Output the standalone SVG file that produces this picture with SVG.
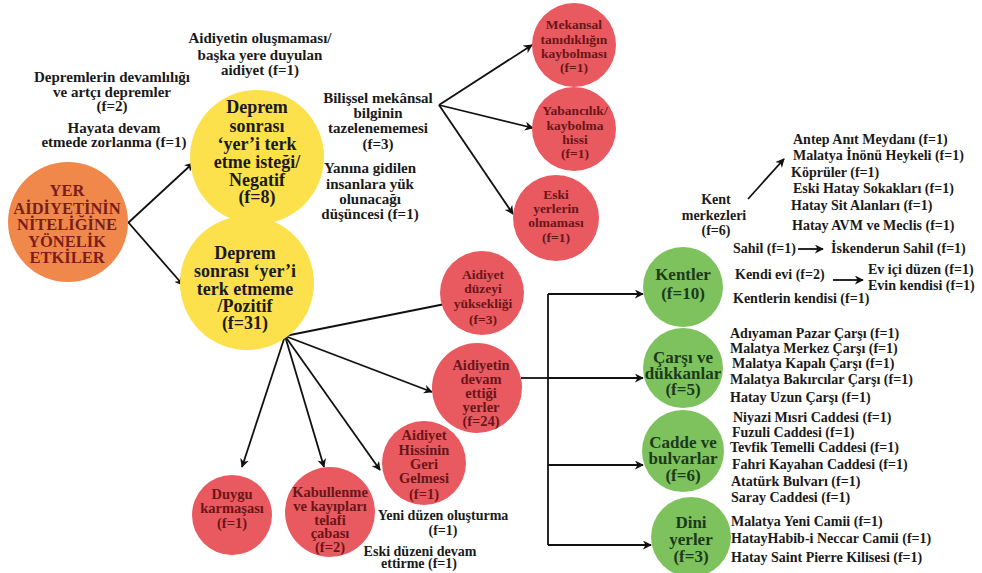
<svg xmlns="http://www.w3.org/2000/svg" width="982" height="573" viewBox="0 0 982 573">
<defs>
<marker id="ah" viewBox="0 0 10 10" refX="9" refY="5" markerWidth="5" markerHeight="5" orient="auto" markerUnits="strokeWidth">
<path d="M0,0 L10,5 L0,10 L3,5 z" fill="#111"/>
</marker>
<style>
text{font-family:"Liberation Serif","Times New Roman",serif;font-weight:bold;}
.c{text-anchor:middle;}
.root{fill:#F1884B;}
.yel{fill:#FCE14C;}
.red{fill:#E85A60;}
.grn{fill:#7DC25C;}
.tr{fill:#7A1E1A;font-size:16.5px;}
.ty{fill:#1a1a1a;font-size:18px;}
.tred{fill:#6A1518;font-size:13.5px;}
.tred2{fill:#6A1518;font-size:14.5px;}
.tg{fill:#1B3A1B;font-size:17px;}
.lb{fill:#1a1a1a;font-size:15px;}
.ls{fill:#1a1a1a;font-size:14px;}
.conn line,.conn polyline{stroke:#111;stroke-width:1.8;fill:none;}
</style>
</defs>
<rect width="982" height="573" fill="#ffffff"/>

<g id="connectors" class="conn">
<line x1="128" y1="223" x2="193" y2="163" marker-end="url(#ah)"/>
<line x1="128" y1="222" x2="183" y2="285" marker-end="url(#ah)"/>
<line x1="439" y1="105" x2="532" y2="45" marker-end="url(#ah)"/>
<line x1="439" y1="105" x2="533" y2="128" marker-end="url(#ah)"/>
<line x1="439" y1="105" x2="513" y2="214" marker-end="url(#ah)"/>
<line x1="285" y1="336" x2="450" y2="303" marker-end="url(#ah)"/>
<line x1="285" y1="336" x2="432" y2="392" marker-end="url(#ah)"/>
<line x1="285" y1="336" x2="380" y2="470" marker-end="url(#ah)"/>
<line x1="285" y1="336" x2="324" y2="467" marker-end="url(#ah)"/>
<line x1="285" y1="336" x2="242" y2="467" marker-end="url(#ah)"/>
<line x1="521" y1="378" x2="548" y2="378"/>
<line x1="548" y1="294" x2="548" y2="545"/>
<line x1="548" y1="294" x2="643" y2="294" marker-end="url(#ah)"/>
<line x1="548" y1="378" x2="643" y2="378" marker-end="url(#ah)"/>
<line x1="548" y1="465" x2="643" y2="465" marker-end="url(#ah)"/>
<line x1="548" y1="545" x2="651" y2="545" marker-end="url(#ah)"/>
<line x1="748" y1="199" x2="784" y2="159" marker-end="url(#ah)"/>
<line x1="798" y1="249" x2="823" y2="249" marker-end="url(#ah)"/>
<line x1="833" y1="280" x2="863" y2="280" marker-end="url(#ah)"/>
</g>

<g id="root">
<circle class="root" cx="68" cy="222" r="60"/>
<text class="c tr" x="67" y="196">YER</text>
<text class="c tr" x="67" y="214">AİDİYETİNİN</text>
<text class="c tr" x="67" y="230">NİTELİĞİNE</text>
<text class="c tr" x="67" y="247">YÖNELİK</text>
<text class="c tr" x="67" y="263">ETKİLER</text>
</g>

<g id="negatif">
<circle class="yel" cx="257" cy="157" r="67"/>
<text class="c ty" x="257" y="113">Deprem</text>
<text class="c ty" x="257" y="132">sonrası</text>
<text class="c ty" x="257" y="150">‘yer’i terk</text>
<text class="c ty" x="257" y="168">etme isteği/</text>
<text class="c ty" x="257" y="186">Negatif</text>
<text class="c ty" x="257" y="203">(f=8)</text>
</g>

<g id="pozitif">
<circle class="yel" cx="247" cy="283" r="67"/>
<text class="c ty" x="245" y="259">Deprem</text>
<text class="c ty" x="245" y="277">sonrası ‘yer’i</text>
<text class="c ty" x="245" y="295">terk etmeme</text>
<text class="c ty" x="245" y="312">/Pozitif</text>
<text class="c ty" x="245" y="329">(f=31)</text>
</g>

<g id="neg-labels">
<text class="c lb" x="260" y="43">Aidiyetin oluşmaması/</text>
<text class="c lb" x="260" y="60">başka yere duyulan</text>
<text class="c lb" x="260" y="75">aidiyet (f=1)</text>
<text class="c lb" x="112" y="82">Depremlerin devamlılığı</text>
<text class="c lb" x="112" y="97">ve artçı  depremler</text>
<text class="c lb" x="112" y="111">(f=2)</text>
<text class="c lb" x="114" y="133">Hayata devam</text>
<text class="c lb" x="114" y="147">etmede zorlanma (f=1)</text>
<text class="c lb" x="378" y="103">Bilişsel mekânsal</text>
<text class="c lb" x="378" y="118">bilginin</text>
<text class="c lb" x="378" y="133">tazelenememesi</text>
<text class="c lb" x="378" y="149">(f=3)</text>
<text class="c lb" x="370" y="173">Yanına gidilen</text>
<text class="c lb" x="370" y="189">insanlara yük</text>
<text class="c lb" x="370" y="204">olunacağı</text>
<text class="c lb" x="370" y="219">düşüncesi (f=1)</text>
</g>

<g id="mekansal">
<circle class="red" cx="574" cy="45" r="42"/>
<text class="c tred" x="574" y="29">Mekansal</text>
<text class="c tred" x="574" y="44">tanıdıklığın</text>
<text class="c tred" x="574" y="58">kaybolması</text>
<text class="c tred" x="574" y="72">(f=1)</text>
</g>
<g id="yabancilik">
<circle class="red" cx="574" cy="129" r="42"/>
<text class="c tred" x="575" y="115">Yabancılık/</text>
<text class="c tred" x="575" y="130">kaybolma</text>
<text class="c tred" x="575" y="144">hissi</text>
<text class="c tred" x="575" y="158">(f=1)</text>
</g>
<g id="eski">
<circle class="red" cx="556" cy="218" r="43"/>
<text class="c tred" x="556" y="199">Eski</text>
<text class="c tred" x="556" y="213">yerlerin</text>
<text class="c tred" x="556" y="227">olmaması</text>
<text class="c tred" x="556" y="242">(f=1)</text>
</g>

<g id="duzey">
<circle class="red" cx="482" cy="293" r="42"/>
<text class="c tred" x="483" y="279">Aidiyet</text>
<text class="c tred" x="483" y="293">düzeyi</text>
<text class="c tred" x="483" y="308">yüksekliği</text>
<text class="c tred" x="483" y="324">(f=3)</text>
</g>
<g id="devam">
<circle class="red" cx="477" cy="388" r="45"/>
<text class="c tred2" x="481" y="370">Aidiyetin</text>
<text class="c tred2" x="481" y="384">devam</text>
<text class="c tred2" x="481" y="398">ettiği</text>
<text class="c tred2" x="481" y="412">yerler</text>
<text class="c tred2" x="481" y="426">(f=24)</text>
</g>
<g id="hissinin">
<circle class="red" cx="424" cy="463" r="42"/>
<text class="c tred2" x="424" y="440">Aidiyet</text>
<text class="c tred2" x="424" y="455">Hissinin</text>
<text class="c tred2" x="424" y="469">Geri</text>
<text class="c tred2" x="424" y="483">Gelmesi</text>
<text class="c tred2" x="424" y="499">(f=1)</text>
</g>
<g id="kabullenme">
<circle class="red" cx="330" cy="512" r="45"/>
<text class="c tred2" x="330" y="497">Kabullenme</text>
<text class="c tred2" x="330" y="511">ve kayıpları</text>
<text class="c tred2" x="330" y="525">telafi</text>
<text class="c tred2" x="330" y="538">çabası</text>
<text class="c tred2" x="330" y="552">(f=2)</text>
</g>
<g id="duygu">
<circle class="red" cx="232" cy="515" r="40"/>
<text class="c tred2" x="232" y="499">Duygu</text>
<text class="c tred2" x="232" y="513">karmaşası</text>
<text class="c tred2" x="232" y="528">(f=1)</text>
</g>

<g id="his-labels">
<text class="c ls" x="443" y="520">Yeni düzen oluşturma</text>
<text class="c ls" x="443" y="535">(f=1)</text>
<text class="c ls" x="420" y="556">Eski düzeni devam</text>
<text class="c ls" x="419" y="568">ettirme (f=1)</text>
</g>

<g id="kentler">
<circle class="grn" cx="683" cy="287" r="40"/>
<text class="c tg" x="683" y="280">Kentler</text>
<text class="c tg" x="683" y="299">(f=10)</text>
</g>
<g id="carsi">
<circle class="grn" cx="683" cy="368" r="40"/>
<text class="c tg" x="683" y="363">Çarşı ve</text>
<text class="c tg" x="683" y="379">dükkanlar</text>
<text class="c tg" x="683" y="395">(f=5)</text>
</g>
<g id="cadde">
<circle class="grn" cx="683" cy="451" r="41"/>
<text class="c tg" x="683" y="448">Cadde ve</text>
<text class="c tg" x="683" y="464">bulvarlar</text>
<text class="c tg" x="683" y="481">(f=6)</text>
</g>
<g id="dini">
<circle class="grn" cx="691" cy="537" r="40"/>
<text class="c tg" x="691" y="528">Dini</text>
<text class="c tg" x="691" y="545">yerler</text>
<text class="c tg" x="691" y="562">(f=3)</text>
</g>

<g id="kent-labels">
<text class="c ls" x="716" y="204">Kent</text>
<text class="c ls" x="714" y="220">merkezleri</text>
<text class="c ls" x="716" y="235">(f=6)</text>
<text class="ls" x="793" y="144">Antep Anıt Meydanı (f=1)</text>
<text class="ls" x="793" y="160">Malatya İnönü Heykeli (f=1)</text>
<text class="ls" x="791" y="177">Köprüler (f=1)</text>
<text class="ls" x="793" y="193">Eski Hatay Sokakları (f=1)</text>
<text class="ls" x="791" y="210">Hatay Sit Alanları (f=1)</text>
<text class="ls" x="792" y="230">Hatay AVM ve Meclis (f=1)</text>
<text class="ls" x="733" y="253">Sahil (f=1)</text>
<text class="ls" x="831" y="253">İskenderun Sahil (f=1)</text>
<text class="ls" x="735" y="279">Kendi evi (f=2)</text>
<text class="ls" x="868" y="274">Ev içi düzen (f=1)</text>
<text class="ls" x="868" y="290">Evin kendisi (f=1)</text>
<text class="ls" x="733" y="303">Kentlerin kendisi (f=1)</text>
</g>

<g id="carsi-labels">
<text class="ls" x="730" y="338">Adıyaman Pazar Çarşı (f=1)</text>
<text class="ls" x="730" y="353">Malatya Merkez Çarşı (f=1)</text>
<text class="ls" x="732" y="368">Malatya Kapalı Çarşı (f=1)</text>
<text class="ls" x="730" y="384">Malatya Bakırcılar Çarşı (f=1)</text>
<text class="ls" x="730" y="402">Hatay Uzun Çarşı (f=1)</text>
</g>
<g id="cadde-labels">
<text class="ls" x="733" y="422">Niyazi Mısri Caddesi  (f=1)</text>
<text class="ls" x="732" y="437">Fuzuli Caddesi (f=1)</text>
<text class="ls" x="730" y="452">Tevfik Temelli Caddesi  (f=1)</text>
<text class="ls" x="732" y="469">Fahri Kayahan Caddesi (f=1)</text>
<text class="ls" x="731" y="486">Atatürk Bulvarı (f=1)</text>
<text class="ls" x="731" y="502">Saray Caddesi (f=1)</text>
</g>
<g id="dini-labels">
<text class="ls" x="731" y="526">Malatya Yeni Camii (f=1)</text>
<text class="ls" x="731" y="543">HatayHabib-i Neccar Camii (f=1)</text>
<text class="ls" x="731" y="562">Hatay Saint Pierre Kilisesi (f=1)</text>
</g>
</svg>
